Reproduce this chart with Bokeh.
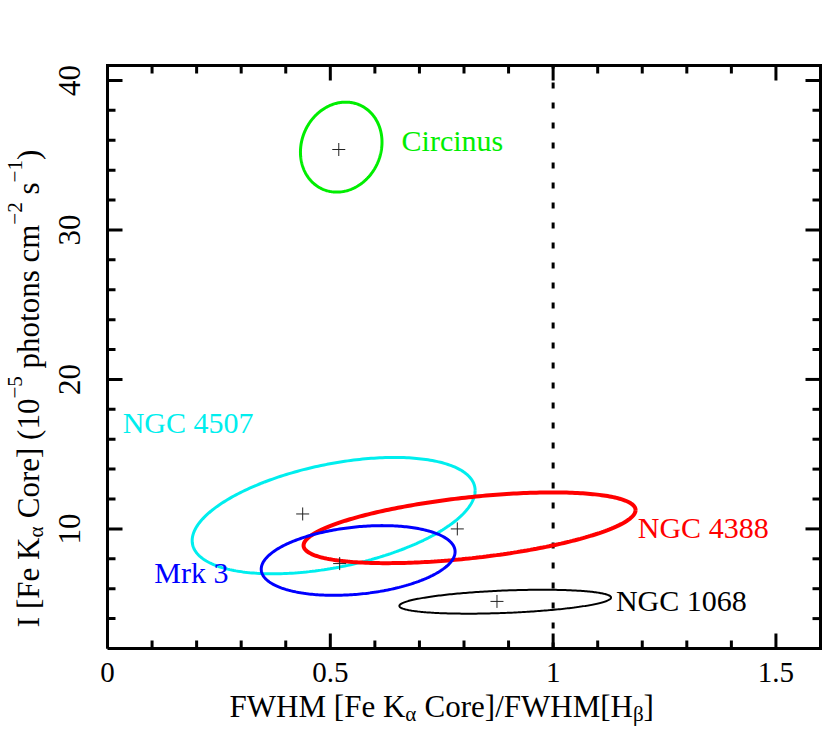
import numpy as np
from bokeh.plotting import figure
from bokeh.models import Range1d, ColumnDataSource
from bokeh.embed import file_html
from bokeh.resources import INLINE
from bokeh.core.properties import value

# ---------------- data ----------------
names = ["Circinus", "NGC 4507", "NGC 4388", "Mrk 3", "NGC 1068"]
colors = ["#00ee00", "#00eeee", "#ff0000", "#0000ff", "#000000"]
line_widths = [3, 3, 4, 3, 2]

# best-fit points (crosses)
best_x = [0.519, 0.438, 0.785, 0.521, 0.874]
best_y = [35.38, 11.00, 10.00, 7.68, 5.15]

# confidence contours: centre, half-extent in x and y, and tilt (y-offset of
# the right-most point as a fraction of the y half-extent)
ell_cx = [0.5245, 0.5075, 0.8125, 0.5625, 0.8925]
ell_cy = [35.54, 10.89, 10.075, 7.89, 5.13]
ell_dx = [0.0915, 0.3175, 0.3725, 0.2175, 0.2375]
ell_dy = [3.01, 3.89, 2.365, 2.33, 0.80]
ell_rho = [0.11, 0.43, 0.50, 0.25, 0.35]

# object-name anchors (left / baseline) in data units
label_x = [0.66, 0.034, 1.19, 0.105, 1.141]
label_y = [35.27, 16.36, 9.35, 6.34, 4.45]

ref_ratio = [1.0]          # vertical dotted line: FWHM ratio = 1

x_limits = [0.0, 1.6]
y_limits = [2.0, 41.0]
x_major = [0, 0.5, 1, 1.5]
x_major_labels = ["0", "0.5", "1", "1.5"]
x_minor = [0.1, 0.2, 0.3, 0.4, 0.6, 0.7, 0.8, 0.9,
           1.1, 1.2, 1.3, 1.4]
y_major = [10, 20, 30, 40]
y_major_labels = ["10", "20", "30", "40"]
y_minor = [4, 6, 8, 12, 14, 16, 18, 22, 24, 26, 28,
           32, 34, 36, 38]

# axis-title anchors (centre of the title) in data units
xtitle_center = 0.75
ytitle_center = 19.4

FONT = "Liberation Serif"

# ---------------- layout geometry (pixels) ----------------
CW, CH = 822, 739
BOX_L, BOX_R, BOX_T, BOX_B = 107, 820, 65, 648
XMIN, XMAX = x_limits
YMIN, YMAX = y_limits
ux = (XMAX - XMIN) / (BOX_R - BOX_L)      # data units per pixel
uy = (YMAX - YMIN) / (BOX_B - BOX_T)
BL = -11      # correction of the rendered baseline (pixels, text-local "down")

p = figure(width=CW, height=CH,
           x_range=Range1d(XMIN - BOX_L * ux, XMAX + (CW - BOX_R) * ux),
           y_range=Range1d(YMIN - (CH - BOX_B) * uy, YMAX + BOX_T * uy),
           x_axis_type=None, y_axis_type=None,
           output_backend="svg", toolbar_location=None,
           min_border=0)
p.background_fill_color = "white"
p.border_fill_color = "white"
p.outline_line_color = None
p.grid.visible = False

# ---------------- frame and ticks ----------------
p.line([XMIN, XMAX, XMAX, XMIN, XMIN], [YMIN, YMIN, YMAX, YMAX, YMIN],
       line_color="black", line_width=3, line_join="miter")

TICK_W = 3
MAJ, MIN_ = 15, 8
for ticks, ln in ((x_major, MAJ), (x_minor, MIN_)):
    n = len(ticks)
    p.ray(x=ticks, y=[YMIN] * n, length=ln, length_units="screen",
          angle=np.pi / 2, line_color="black", line_width=TICK_W)
    p.ray(x=ticks, y=[YMAX] * n, length=ln, length_units="screen",
          angle=-np.pi / 2, line_color="black", line_width=TICK_W)
for ticks, ln in ((y_major, MAJ), (y_minor, MIN_)):
    n = len(ticks)
    p.ray(x=[XMIN] * n, y=ticks, length=ln, length_units="screen",
          angle=0, line_color="black", line_width=TICK_W)
    p.ray(x=[XMAX] * n, y=ticks, length=ln, length_units="screen",
          angle=np.pi, line_color="black", line_width=TICK_W)

# tick labels
p.text(x=x_major, y=[YMIN] * len(x_major), text=x_major_labels,
       y_offset=35 + BL, text_align="center", text_baseline="alphabetic",
       text_font=value(FONT), text_font_size="29px", text_color="black")
p.text(x=[XMIN] * len(y_major), y=y_major, text=y_major_labels,
       x_offset=-27 + BL, angle=np.pi / 2, text_align="center",
       text_baseline="alphabetic",
       text_font=value(FONT), text_font_size="31px", text_color="black")

# dotted reference line
p.segment(x0=ref_ratio, y0=[YMIN] * len(ref_ratio), x1=ref_ratio,
          y1=[YMAX] * len(ref_ratio), line_color="black", line_width=3,
          line_dash="6 14")

# ---------------- contours ----------------
t = np.linspace(0, 2 * np.pi, 300)
for cx, cy, dx, dy, rho, c, lw in zip(ell_cx, ell_cy, ell_dx, ell_dy, ell_rho,
                                      colors, line_widths):
    phi = np.arcsin(rho)
    p.line(cx + dx * np.cos(t), cy + dy * np.sin(t + phi), line_color=c, line_width=lw)

# best-fit crosses
p.scatter(best_x, best_y, marker="cross", size=13, line_color="#222222", line_width=1)

# object names
src = ColumnDataSource(dict(x=label_x, y=label_y, text=names, color=colors))
p.text(x="x", y="y", text="text", text_color="color", source=src,
       y_offset=BL, text_font=value(FONT), text_font_size="30px",
       text_align="left", text_baseline="alphabetic")

# ---------------- axis titles with sub/superscripts ----------------
W = {" ": 250, "(": 333, ")": 333, "[": 333, "]": 333, "/": 278,
     "0": 500, "1": 500, "2": 500, "5": 500, "\u2212": 564,
     "C": 667, "F": 556, "H": 722, "I": 333, "K": 722, "M": 889, "W": 944,
     "c": 444, "e": 444, "h": 500, "m": 778, "n": 500, "o": 500, "p": 500,
     "r": 333, "s": 389, "t": 278, "\u03b1": 550, "\u03b2": 500}
SMALL = 0.68


def tw(s, fs):
    return sum(W.get(ch, 500) for ch in s) / 1000.0 * fs


def fsize(mode, size):
    return size if mode == "n" else size * SMALL


def rich_title(pieces, size, ax, ay, base_off, vertical=False):
    """ax, ay: data anchor; base_off: pixel distance of the baseline from the
    anchor (down for the x title, left for the y title)."""
    total = sum(tw(txt, fsize(m, size)) for txt, m in pieces)
    pos = -total / 2.0
    for txt, mode in pieces:
        fs = fsize(mode, size)
        lead = len(txt) - len(txt.lstrip(" "))
        pos += tw(" " * lead, fs)          # leading blanks are not rendered
        txt = txt.lstrip(" ")
        shift = 0.0 if mode == "n" else (-0.24 * size if mode == "sub" else 0.42 * size)
        if vertical:
            xo, yo, ang = -base_off - shift + BL, -pos, np.pi / 2
        else:
            xo, yo, ang = pos, base_off - shift + BL, 0.0
        p.text(x=[ax], y=[ay], text=[txt], x_offset=xo, y_offset=yo, angle=ang,
               text_align="left", text_baseline="alphabetic",
               text_font=value(FONT), text_font_size=f"{fs:.1f}px",
               text_color="black")
        pos += tw(txt, fs)


xlab = [("FWHM [Fe K", "n"), ("\u03b1", "sub"), (" Core]/FWHM[H", "n"),
        ("\u03b2", "sub"), ("]", "n")]
ylab = [("I [Fe K", "n"), ("\u03b1", "sub"), (" Core] (10", "n"), ("\u22125", "sup"),
        (" photons cm", "n"), ("\u22122", "sup"), (" s", "n"), ("\u22121", "sup"),
        (")", "n")]

rich_title(xlab, 31, xtitle_center, YMIN, 69)
rich_title(ylab, 31, XMIN, ytitle_center, 68, vertical=True)

open("out.html", "w").write(file_html(p, INLINE))
